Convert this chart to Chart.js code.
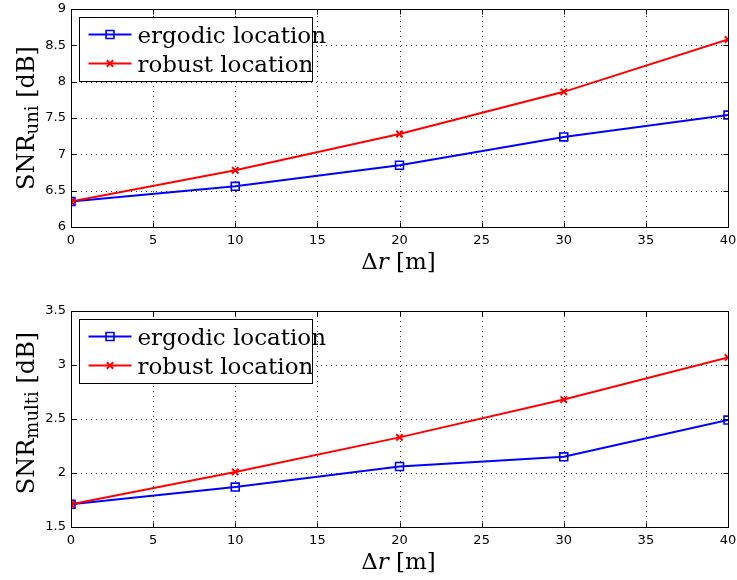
<!DOCTYPE html>
<html><head><meta charset="utf-8">
<script src="https://cdn.jsdelivr.net/npm/chart.js@4"></script>
<style>
html,body{margin:0;padding:0;background:#fff;}
#wrap{position:relative;width:737px;height:580px;background:#fff;}
.c{position:absolute;left:0;width:737px;height:290px;}
</style></head><body>
<div id="wrap">
<div class="c" style="top:0"><canvas id="c1" width="737" height="290"></canvas></div>
<div class="c" style="top:290px"><canvas id="c2" width="737" height="290"></canvas></div>
</div>
<script>
// ---- data ----
const xValues = [0, 10, 20, 30, 40];
const seriesNames = ['ergodic location', 'robust location'];
const uniErgodic = [6.35, 6.56, 6.85, 7.24, 7.54];
const uniRobust = [6.35, 6.78, 7.28, 7.86, 8.58];
const multiErgodic = [1.71, 1.87, 2.06, 2.15, 2.49];
const multiRobust = [1.71, 2.01, 2.33, 2.68, 3.07];
const xTickRange = {min: 0, max: 40, step: 5};
const uniTickRange = {min: 6, max: 9, step: 0.5};
const multiTickRange = {min: 1.5, max: 3.5, step: 0.5};
const xTitleParts = [['Δ', 'normal'], ['r', 'italic'], [' [m]', 'normal']];
const uniTitle = {main: 'SNR', sub: 'uni', tail: ' [dB]'};
const multiTitle = {main: 'SNR', sub: 'multi', tail: ' [dB]'};

const SERIF = '"DejaVu Serif", serif';
const SANS = '"DejaVu Sans", sans-serif';

function toPts(vals){ return xValues.map((x,i)=>({x:x, y:vals[i]})); }
function fmtTick(v){ return String(Math.round(v * 100) / 100); }

const framePlugin = {
  id: 'frame',
  beforeDatasetsDraw(chart){
    const ctx = chart.ctx, a = chart.chartArea;
    const xs = chart.scales.x, ys = chart.scales.y;
    ctx.save();
    ctx.strokeStyle = 'rgba(0,0,0,0.8)';
    ctx.lineWidth = 1;
    ctx.setLineDash([1, 4]);
    xs.ticks.forEach(t=>{
      const px = Math.round(xs.getPixelForValue(t.value)) + 0.5;
      ctx.beginPath(); ctx.moveTo(px, a.bottom); ctx.lineTo(px, a.top); ctx.stroke();
    });
    ys.ticks.forEach(t=>{
      const py = Math.round(ys.getPixelForValue(t.value)) + 0.5;
      ctx.beginPath(); ctx.moveTo(a.left, py); ctx.lineTo(a.right, py); ctx.stroke();
    });
    ctx.restore();
  },
  afterDatasetsDraw(chart){
    const ctx = chart.ctx, a = chart.chartArea;
    const xs = chart.scales.x, ys = chart.scales.y;
    const L = Math.round(a.left)+0.5, R = Math.round(a.right)+0.5, T = Math.round(a.top)+0.5, B = Math.round(a.bottom)+0.5;
    ctx.save();
    ctx.strokeStyle = '#000'; ctx.lineWidth = 1; ctx.setLineDash([]);
    const tl = 5;
    xs.ticks.forEach(t=>{
      const px = Math.round(xs.getPixelForValue(t.value)) + 0.5;
      ctx.beginPath(); ctx.moveTo(px, B); ctx.lineTo(px, B - tl); ctx.stroke();
      ctx.beginPath(); ctx.moveTo(px, T); ctx.lineTo(px, T + tl); ctx.stroke();
    });
    ys.ticks.forEach(t=>{
      const py = Math.round(ys.getPixelForValue(t.value)) + 0.5;
      ctx.beginPath(); ctx.moveTo(L, py); ctx.lineTo(L + tl, py); ctx.stroke();
      ctx.beginPath(); ctx.moveTo(R, py); ctx.lineTo(R - tl, py); ctx.stroke();
    });
    ctx.strokeRect(L, T, R - L, B - T);
    ctx.restore();
  },
  afterDraw(chart, args, opts){
    const ctx = chart.ctx, a = chart.chartArea;
    ctx.save();
    // legend box
    const bx = Math.round(a.left + 8) + 0.5, by = Math.round(a.top + 7.5) + 0.5;
    const bw = 233, bh = 64;
    ctx.fillStyle = '#fff';
    ctx.fillRect(bx, by, bw, bh);
    ctx.strokeStyle = '#000'; ctx.lineWidth = 1;
    ctx.strokeRect(bx, by, bw, bh);
    chart.data.datasets.forEach((ds, i)=>{
      const ry = by + 17 + i * 29;
      ctx.strokeStyle = ds.borderColor; ctx.lineWidth = ds.borderWidth;
      ctx.beginPath(); ctx.moveTo(bx + 9, ry); ctx.lineTo(bx + 52, ry); ctx.stroke();
      if (Chart.helpers && Chart.helpers.drawPoint) {
        ctx.fillStyle = ds.pointBackgroundColor;
        ctx.lineWidth = ds.pointBorderWidth;
        Chart.helpers.drawPoint(ctx, {pointStyle: ds.pointStyle, radius: ds.pointRadius, borderWidth: ds.pointBorderWidth, rotation: 0}, bx + 30.5, ry);
      }
      ctx.fillStyle = '#000';
      ctx.font = '23px ' + SERIF;
      ctx.textAlign = 'left'; ctx.textBaseline = 'alphabetic';
      ctx.fillText(ds.label, bx + 58, ry + 8.5);
    });
    // x title
    ctx.fillStyle = '#000';
    ctx.textBaseline = 'alphabetic';
    let tot = 0;
    xTitleParts.forEach(p=>{ ctx.font = p[1] + ' 23px ' + SERIF; tot += ctx.measureText(p[0]).width; });
    let cx = (a.left + a.right) / 2 - 1 - tot / 2;
    const xb = a.bottom + 42;
    ctx.textAlign = 'left';
    xTitleParts.forEach(p=>{ ctx.font = p[1] + ' 23px ' + SERIF; ctx.fillText(p[0], cx, xb); cx += ctx.measureText(p[0]).width; });
    // y title
    const t = opts.ytitle;
    ctx.font = '24px ' + SERIF; const w1 = ctx.measureText(t.main).width; const w3 = ctx.measureText(t.tail).width;
    ctx.font = '18px ' + SERIF; const w2 = ctx.measureText(t.sub).width;
    const total = w1 + w2 + w3;
    ctx.translate(33.5, (a.top + a.bottom) / 2 + (opts.shift || 0));
    ctx.rotate(-Math.PI / 2);
    let sx = -total / 2;
    ctx.font = '24px ' + SERIF; ctx.fillText(t.main, sx, 0); sx += w1;
    ctx.font = '18px ' + SERIF; ctx.fillText(t.sub, sx, 4); sx += w2;
    ctx.font = '24px ' + SERIF; ctx.fillText(t.tail, sx, 0);
    ctx.restore();
  }
};

function makeChart(id, ergo, rob, yr, ytitle, padTop, xAxisH, shift){
  return new Chart(document.getElementById(id), {
    type: 'line',
    data: {
      datasets: [
        {label: seriesNames[0], data: toPts(ergo), borderColor: '#0000ff', backgroundColor: '#0000ff', borderWidth: 2,
         pointStyle: 'rect', pointRadius: 5.6, pointBorderWidth: 1.6, pointBackgroundColor: 'rgba(0,0,0,0)', pointBorderColor: '#0000ff', tension: 0, order: 2},
        {label: seriesNames[1], data: toPts(rob), borderColor: '#ff0000', backgroundColor: '#ff0000', borderWidth: 2,
         pointStyle: 'crossRot', pointRadius: 4.5, pointBorderWidth: 2, pointBackgroundColor: 'rgba(0,0,0,0)', pointBorderColor: '#ff0000', tension: 0, order: 1}
      ]
    },
    options: {
      responsive: false, animation: false, devicePixelRatio: 1,
      layout: {padding: {left: 0, right: 9, top: padTop, bottom: 0}},
      plugins: {legend: {display: false}, tooltip: {enabled: false}, frame: {ytitle: ytitle, shift: shift}},
      scales: {
        x: {type: 'linear', min: xTickRange.min, max: xTickRange.max,
            ticks: {stepSize: xTickRange.step, color: '#000', font: {family: SANS, size: 13}, padding: 6, maxRotation: 0, callback: fmtTick},
            grid: {display: false, drawTicks: false}, border: {display: false},
            afterFit(s){ s.height = xAxisH; s.paddingLeft = 0; s.paddingRight = 0; }},
        y: {type: 'linear', min: yr.min, max: yr.max,
            ticks: {stepSize: yr.step, color: '#000', font: {family: SANS, size: 13}, padding: 5, callback: fmtTick},
            grid: {display: false, drawTicks: false}, border: {display: false},
            afterFit(s){ s.width = 71; s.paddingTop = 0; s.paddingBottom = 0; }}
      }
    },
    plugins: [framePlugin]
  });
}

makeChart('c1', uniErgodic, uniRobust, uniTickRange, uniTitle, 9, 63, 0);
makeChart('c2', multiErgodic, multiRobust, multiTickRange, multiTitle, 21, 53, -6);
</script>
</body></html>
